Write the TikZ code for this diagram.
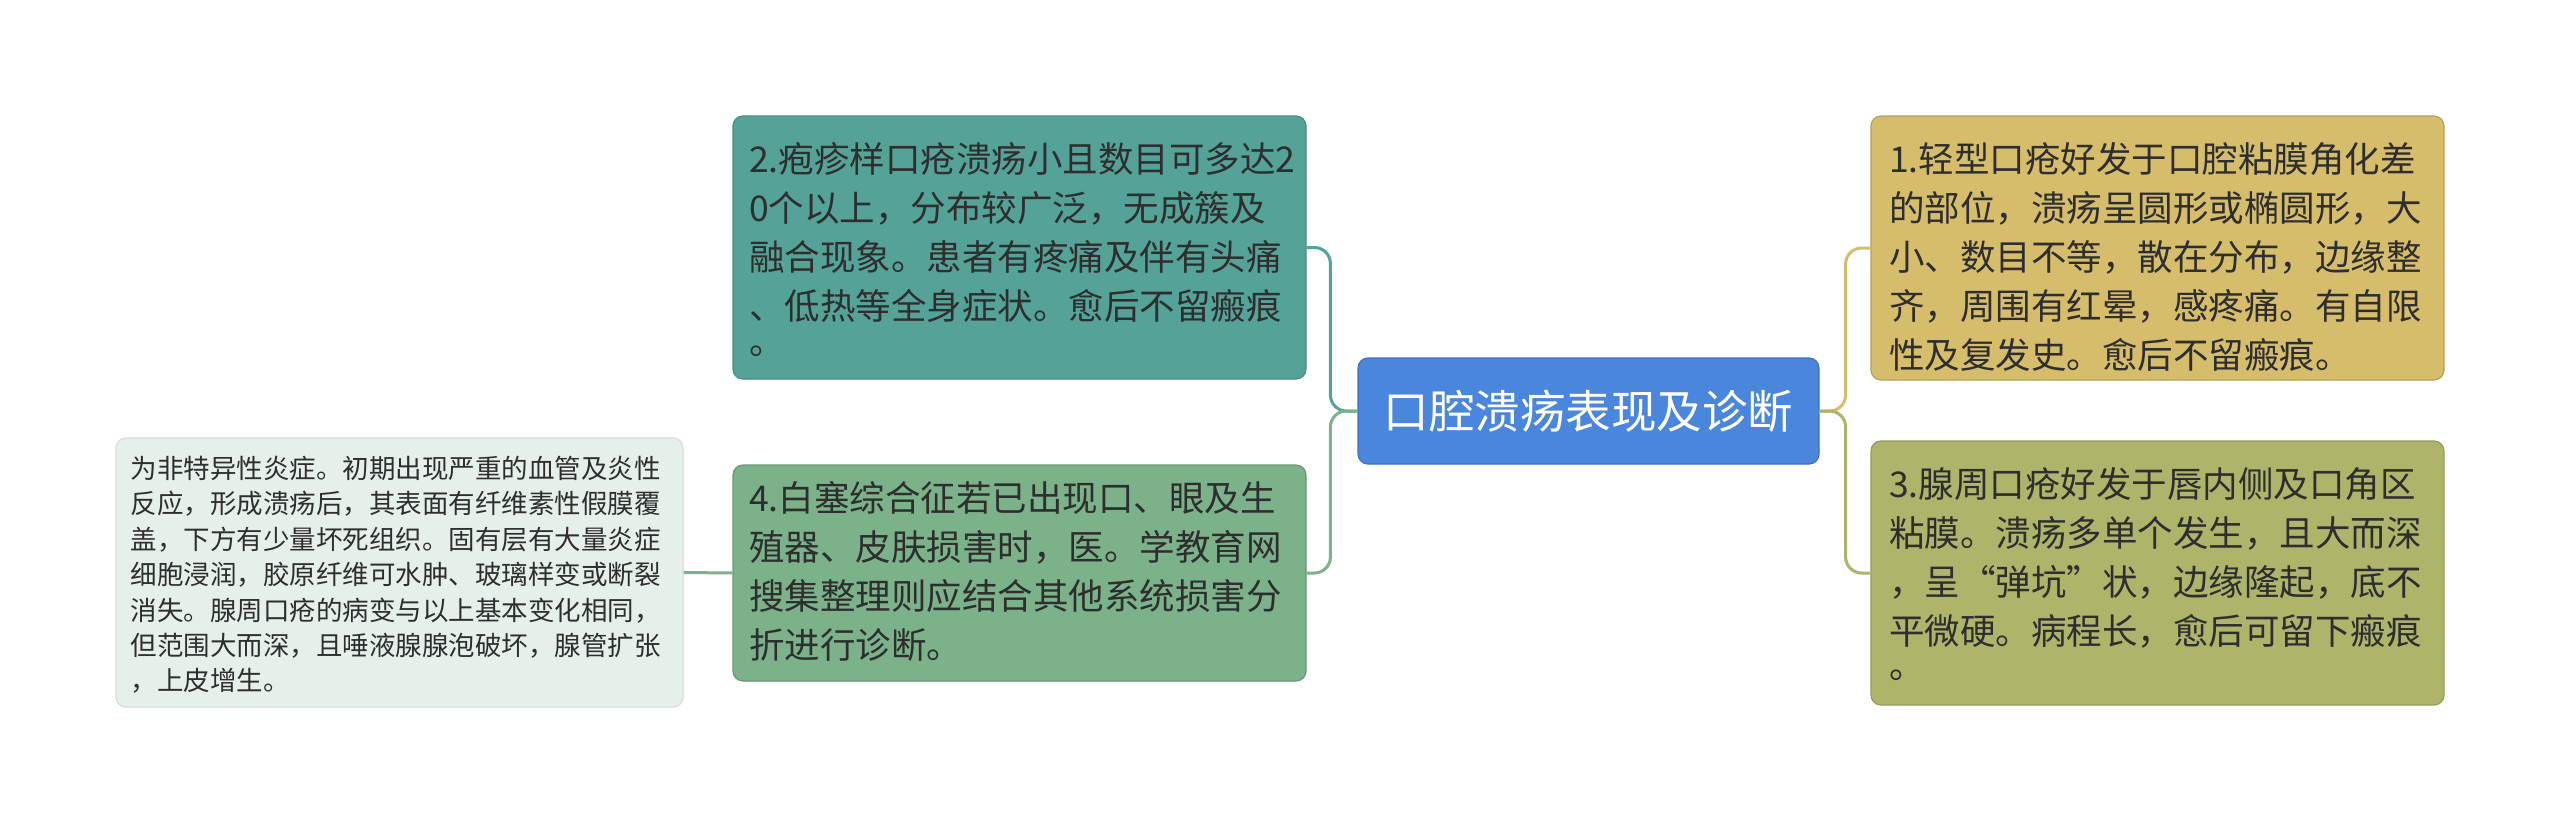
\documentclass[tikz,border=0pt]{standalone}
\usepackage{fontspec}
\setmainfont{Noto Sans CJK SC}
\definecolor{tealc}{HTML}{55A398}
\definecolor{greenc}{HTML}{7BB28A}
\definecolor{yellowc}{HTML}{D5BD6C}
\definecolor{olivec}{HTML}{AEB56B}
\definecolor{bluec}{HTML}{4A86DC}
\definecolor{leafc}{HTML}{E6F0EA}
\definecolor{txtc}{HTML}{2E2E2E}
\tikzset{
  box/.style={rounded corners=10pt, line width=1.2pt, inner sep=0pt},
  bigtxt/.style={inner sep=0pt, align=left, text=txtc, font=\fontsize{35.5}{49}\selectfont},
  smalltxt/.style={inner sep=0pt, align=left, text=txtc, font=\fontsize{26.5}{35.4}\selectfont},
  conn/.style={line width=3pt, rounded corners=16pt},
}
\begin{document}
\begin{tikzpicture}[x=1pt,y=-1pt]
\fill[white] (0,0) rectangle (2560,825);
\useasboundingbox (0,0) rectangle (2560,825);

% boxes
\node[box, fill=bluec, draw=bluec!85!black, minimum width=461pt, minimum height=106pt] (c) at (1588.5,411) {};
\node[inner sep=0pt, text=white, font=\fontsize{45.5}{54}\selectfont] (ct) at (1588.5,411) {口腔溃疡表现及诊断};

\node[box, fill=tealc, draw=tealc!85!black, minimum width=573pt, minimum height=263pt] (b2) at (1019.5,247.5) {};
\node[bigtxt, anchor=west] (t2) at (749,250) {2.疱疹样口疮溃疡小且数目可多达2\\0个以上，分布较广泛，无成簇及\\融合现象。患者有疼痛及伴有头痛\\、低热等全身症状。愈后不留瘢痕\\[-14pt]。};

\node[box, fill=greenc, draw=greenc!85!black, minimum width=573pt, minimum height=216pt] (b4) at (1019.5,573) {};
\node[bigtxt, anchor=west] (t4) at (749,571.5) {4.白塞综合征若已出现口、眼及生\\殖器、皮肤损害时，医。学教育网\\搜集整理则应结合其他系统损害分\\折进行诊断。};

\node[box, fill=yellowc, draw=yellowc!85!black, minimum width=573pt, minimum height=264pt] (b1) at (2157.5,248) {};
\node[bigtxt, anchor=west] (t1) at (1889,257) {1.轻型口疮好发于口腔粘膜角化差\\的部位，溃疡呈圆形或椭圆形，大\\小、数目不等，散在分布，边缘整\\齐，周围有红晕，感疼痛。有自限\\性及复发史。愈后不留瘢痕。};

\node[box, fill=olivec, draw=olivec!85!black, minimum width=573pt, minimum height=264pt] (b3) at (2157.5,573) {};
\node[bigtxt, anchor=west] (t3) at (1889,574) {3.腺周口疮好发于唇内侧及口角区\\粘膜。溃疡多单个发生，且大而深\\，呈“弹坑”状，边缘隆起，底不\\平微硬。病程长，愈后可留下瘢痕\\[-15pt]。};

\node[box, fill=leafc, draw=leafc!92!black, minimum width=567pt, minimum height=269pt] (lf) at (399.5,572.5) {};
\node[smalltxt, anchor=west] (tl) at (130.5,575) {为非特异性炎症。初期出现严重的血管及炎性\\反应，形成溃疡后，其表面有纤维素性假膜覆\\盖，下方有少量坏死组织。固有层有大量炎症\\细胞浸润，胶原纤维可水肿、玻璃样变或断裂\\消失。腺周口疮的病变与以上基本变化相同，\\但范围大而深，且唾液腺腺泡破坏，腺管扩张\\，上皮增生。};

% connectors
\draw[conn, tealc] (c.west) -- ([xshift=-27pt]c.west) |- (b2.east);
\draw[conn, greenc] (c.west) -- ([xshift=-27pt]c.west) |- (b4.east);
\draw[conn, yellowc] (c.east) -- ([xshift=26pt]c.east) |- (b1.west);
\draw[conn, olivec] (c.east) -- ([xshift=26pt]c.east) |- (b3.west);
\draw[conn, greenc] (b4.west) -- (lf.east);
\end{tikzpicture}
\end{document}
